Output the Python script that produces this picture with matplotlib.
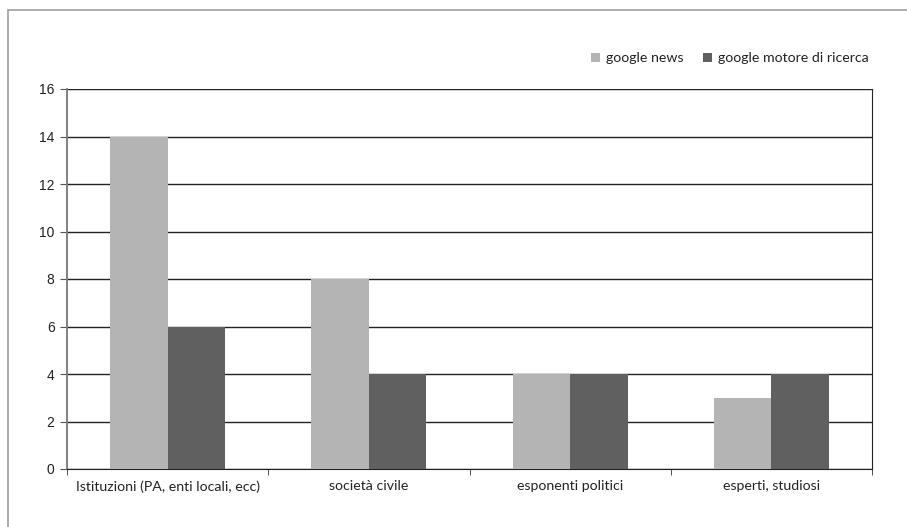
import numpy as np
import matplotlib
matplotlib.use('agg')
import matplotlib.pyplot as plt
from matplotlib.patches import Rectangle
import matplotlib.ticker as ticker

categories = ['Istituzioni (PA, enti locali, ecc)', 'società civile',
              'esponenti politici', 'esperti, studiosi']
series_names = ['google news', 'google motore di ricerca']
google_news = [14, 8, 4, 3]
google_motore = [6, 4, 4, 4]
colors_bar = ['#b3b4b3', '#606060']

fig = plt.figure(figsize=[9.07, 5.27], dpi=100)
# outer frame (left and top visible)
fig.add_artist(Rectangle((8/907, -0.1), 1.2, (517/527) + 0.1, transform=fig.transFigure,
                         fill=False, edgecolor='#a0a0a0', linewidth=1.2))

ax = fig.add_axes([67/907, 1 - 469/527, 805/907, 380/527])
x = np.arange(len(categories))
w = 0.286
ax.bar(x - w/2, google_news, w, color=colors_bar[0], label=series_names[0], zorder=3)
ax.bar(x + w/2, google_motore, w, color=colors_bar[1], label=series_names[1], zorder=3)

ax.set_xlim(-0.5, len(categories) - 0.5)
ax.set_ylim(0, 16)
ax.yaxis.set_major_locator(ticker.MultipleLocator(2))
ax.yaxis.grid(True, color='#222222', linewidth=1.0, zorder=1)
ax.set_axisbelow(True)

ax.set_xticks(x)
ax.set_xticklabels(categories, fontsize=10.2, family='Lato', color='#222222')
ax.xaxis.set_minor_locator(ticker.FixedLocator(np.arange(-0.5, len(categories), 1)))
ax.tick_params(axis='x', which='major', length=0, pad=8)
ax.tick_params(axis='x', which='minor', length=4, direction='out', color='#333333')
ax.tick_params(axis='y', length=5, direction='out', color='#555555', labelsize=10,
               labelcolor='#222222', pad=4)
for lab in ax.get_yticklabels():
    lab.set_family('Liberation Sans')

ax.spines['top'].set_visible(False)
ax.spines['left'].set_color('#777777')
ax.spines['left'].set_linewidth(1.3)
ax.spines['bottom'].set_color('#222222')
ax.spines['right'].set_color('#222222')

leg = ax.legend(loc='lower right', bbox_to_anchor=(1.003, 1.05), ncol=2, frameon=False,
                prop={'family': 'Lato', 'size': 10.2}, handlelength=0.65, handleheight=0.65,
                handletextpad=0.4, columnspacing=1.4, borderaxespad=0)
for t in leg.get_texts():
    t.set_color('#222222')

plt.savefig('out.png', dpi=100)
plt.close()
